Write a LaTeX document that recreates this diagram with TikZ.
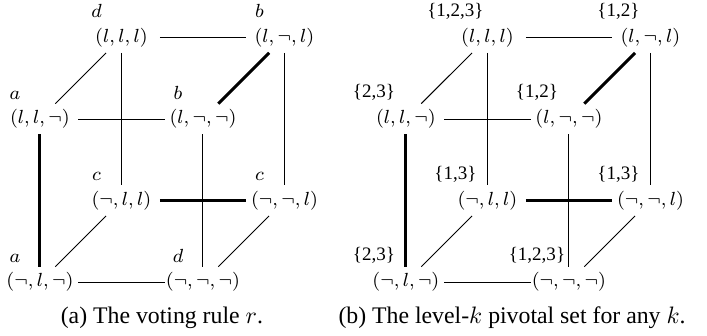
\documentclass[tikz,border=0pt]{standalone}
\usepackage{amsmath,amssymb}
\usepackage[no-math]{fontspec}
\setmainfont{Liberation Serif}
\tikzset{
  vtx/.style={inner sep=0pt,minimum width=1.12cm,minimum height=0.44cm,font=\footnotesize},
  tag/.style={anchor=base,inner sep=0pt,font=\footnotesize},
  link/.style={thin},
  pivot/.style={line width=1.3pt},
}

\begin{document}
\begin{tikzpicture}[x=2.41cm,y=2.41cm]
  \useasboundingbox (-0.245,-0.331) rectangle (4.092,1.730);
  % (a) the voting rule
  \node[vtx] (a-lll) at (0.5,1.5) {$(l,l,l)$};
  \node[vtx] (a-lnl) at (1.5,1.5) {$(l,\neg,l)$};
  \node[vtx] (a-lln) at (0,1) {$(l,l,\neg)$};
  \node[vtx] (a-lnn) at (1,1) {$(l,\neg,\neg)$};
  \node[vtx] (a-nll) at (0.5,0.5) {$(\neg,l,l)$};
  \node[vtx] (a-nnl) at (1.5,0.5) {$(\neg,\neg,l)$};
  \node[vtx] (a-nln) at (0,0) {$(\neg,l,\neg)$};
  \node[vtx] (a-nnn) at (1,0) {$(\neg,\neg,\neg)$};
  \node[tag] (a-lll-t) at (0.347,1.62) {$d$};
  \node[tag] (a-lnl-t) at (1.347,1.62) {$b$};
  \node[tag] (a-lln-t) at (-0.153,1.12) {$a$};
  \node[tag] (a-lnn-t) at (0.847,1.12) {$b$};
  \node[tag] (a-nll-t) at (0.347,0.62) {$c$};
  \node[tag] (a-nnl-t) at (1.347,0.62) {$c$};
  \node[tag] (a-nln-t) at (-0.153,0.12) {$a$};
  \node[tag] (a-nnn-t) at (0.847,0.12) {$d$};
  \draw[link] (a-lll) -- (a-lnl);
  \draw[link] (a-lll) -- (a-lln);
  \draw[link] (a-lll) -- (a-nll);
  \draw[link] (a-lln) -- (a-lnn);
  \draw[link] (a-lnl) -- (a-nnl);
  \draw[link] (a-lnn) -- (a-nnn);
  \draw[link] (a-nll) -- (a-nln);
  \draw[link] (a-nnl) -- (a-nnn);
  \draw[link] (a-nln) -- (a-nnn);
  \draw[pivot] (a-lnl) -- (a-lnn);
  \draw[pivot] (a-lln) -- (a-nln);
  \draw[pivot] (a-nll) -- (a-nnl);
  \node[anchor=base] (cap-a) at (0.748,-0.252) {(a) The voting rule $r$.};
  % (b) the pivotal sets
  \begin{scope}[shift={(2.245,0)}]
    \node[vtx] (b-lll) at (0.5,1.5) {$(l,l,l)$};
    \node[vtx] (b-lnl) at (1.5,1.5) {$(l,\neg,l)$};
    \node[vtx] (b-lln) at (0,1) {$(l,l,\neg)$};
    \node[vtx] (b-lnn) at (1,1) {$(l,\neg,\neg)$};
    \node[vtx] (b-nll) at (0.5,0.5) {$(\neg,l,l)$};
    \node[vtx] (b-nnl) at (1.5,0.5) {$(\neg,\neg,l)$};
    \node[vtx] (b-nln) at (0,0) {$(\neg,l,\neg)$};
    \node[vtx] (b-nnn) at (1,0) {$(\neg,\neg,\neg)$};
    \node[tag] (b-lll-t) at (0.304,1.63) {\{1,2,3\}};
    \node[tag] (b-lnl-t) at (1.304,1.63) {\{1,2\}};
    \node[tag] (b-lln-t) at (-0.196,1.13) {\{2,3\}};
    \node[tag] (b-lnn-t) at (0.804,1.13) {\{1,2\}};
    \node[tag] (b-nll-t) at (0.304,0.63) {\{1,3\}};
    \node[tag] (b-nnl-t) at (1.304,0.63) {\{1,3\}};
    \node[tag] (b-nln-t) at (-0.196,0.13) {\{2,3\}};
    \node[tag] (b-nnn-t) at (0.804,0.13) {\{1,2,3\}};
    \draw[link] (b-lll) -- (b-lnl);
    \draw[link] (b-lll) -- (b-lln);
    \draw[link] (b-lll) -- (b-nll);
    \draw[link] (b-lln) -- (b-lnn);
    \draw[link] (b-lnl) -- (b-nnl);
    \draw[link] (b-lnn) -- (b-nnn);
    \draw[link] (b-nll) -- (b-nln);
    \draw[link] (b-nnl) -- (b-nnn);
    \draw[link] (b-nln) -- (b-nnn);
    \draw[pivot] (b-lnl) -- (b-lnn);
    \draw[pivot] (b-lln) -- (b-nln);
    \draw[pivot] (b-nll) -- (b-nnl);
  \end{scope}
  \node[anchor=base] (cap-b) at (2.896,-0.252) {(b) The level-$k$ pivotal set for any $k$.};
\end{tikzpicture}
\end{document}
